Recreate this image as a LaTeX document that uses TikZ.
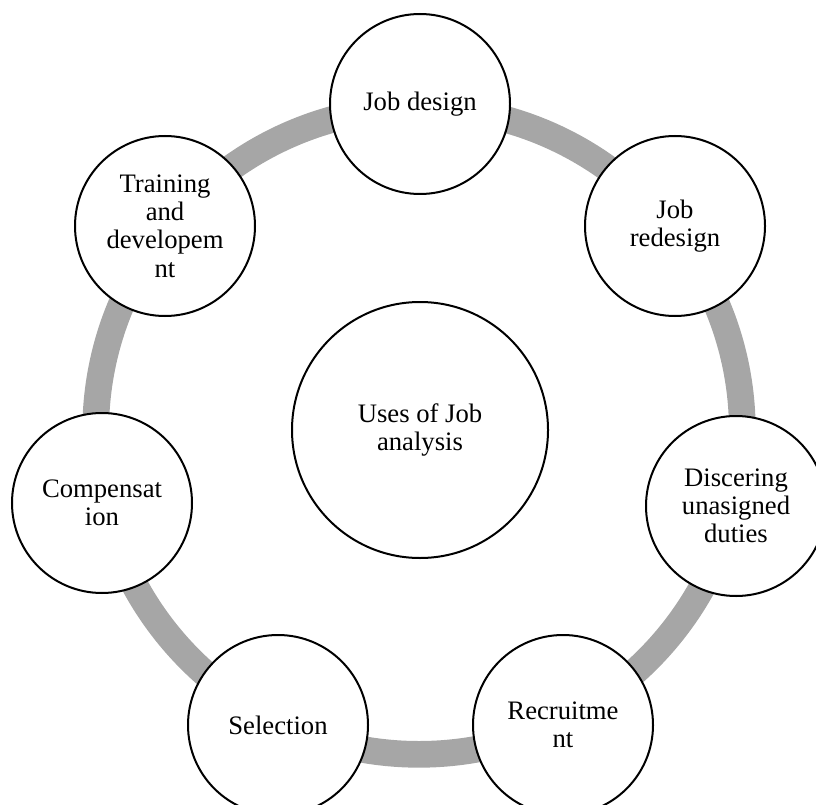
\documentclass[tikz,border=0pt]{standalone}
\usepackage{fontspec}
\setmainfont{Liberation Serif}
\definecolor{ringgray}{RGB}{166,166,166}
\begin{document}
\begin{tikzpicture}[x=0.75pt,y=-0.75pt,
  item/.style={circle,draw=black,line width=1.5pt,fill=white,minimum size=135pt,inner sep=0pt,align=center,
    font=\fontsize{20}{21.2}\selectfont},
  ringline/.style={draw=ringgray,line width=20pt}]
\useasboundingbox (0,0) rectangle (816,805);
\clip (0,0) rectangle (816,805);
\draw[ringline] (419,431) circle[radius=242.5pt];
\node[item, minimum size=192pt] (ce) at (420,430) {Uses of Job\\analysis};
\node[item] (jd) at (420,104) {Job design};
\node[item] (jr) at (675,226) {Job\\redesign};
\node[item] (du) at (736,506) {Discering\\unasigned\\duties};
\node[item] (rc) at (563,725) {Recruitme\\nt};
\node[item] (se) at (278,725) {Selection};
\node[item] (co) at (102,503) {Compensat\\ion};
\node[item] (td) at (165,226) {Training\\and\\developem\\nt};
\end{tikzpicture}
\end{document}
